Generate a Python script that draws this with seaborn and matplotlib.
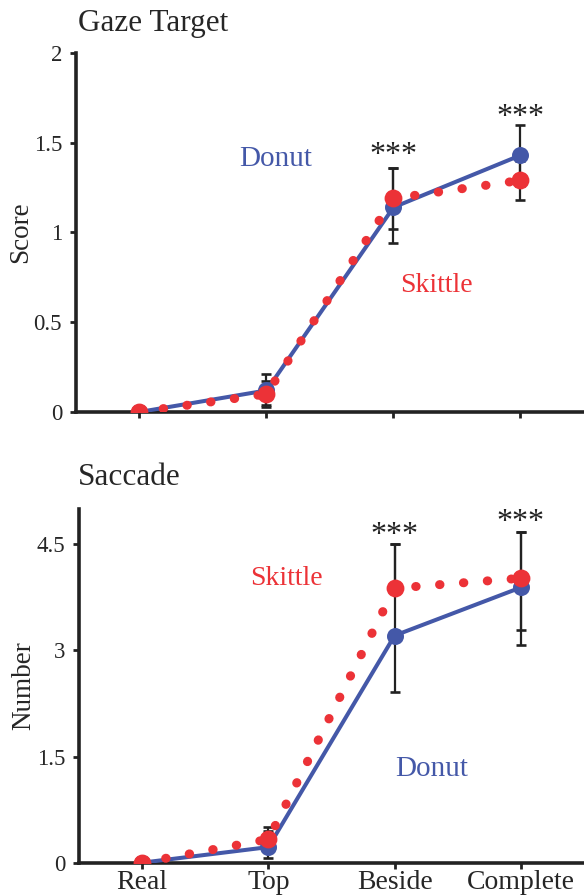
import numpy as np
import pandas as pd
import matplotlib
matplotlib.use("Agg")
import matplotlib.pyplot as plt
import seaborn as sns

# ---- data ----
categories = ["Real", "Top", "Beside", "Complete"]

gaze_donut = [0.0, 0.12, 1.14, 1.43]
gaze_skittle = [0.0, 0.10, 1.19, 1.29]
gaze_donut_lo = [np.nan, 0.03, 0.94, 1.26]
gaze_donut_hi = [np.nan, 0.21, 1.36, 1.60]
gaze_skittle_lo = [np.nan, 0.04, 1.02, 1.18]
gaze_skittle_hi = [np.nan, 0.17, 1.36, 1.40]

sacc_donut = [0.0, 0.22, 3.21, 3.89]
sacc_skittle = [0.0, 0.33, 3.88, 4.02]
sacc_donut_lo = [np.nan, 0.06, 2.41, 3.29]
sacc_donut_hi = [np.nan, 0.45, 4.50, 4.68]
sacc_skittle_lo = [np.nan, 0.15, 3.94, 3.07]
sacc_skittle_hi = [np.nan, 0.50, 4.50, 4.68]

gaze_yticks = [0, 0.5, 1, 1.5, 2]
gaze_yticklabels = ["0", "0.5", "1", "1.5", "2"]
sacc_yticks = [0, 1.5, 3, 4.5]
sacc_yticklabels = ["0", "1.5", "3", "4.5"]

BLUE = "#4458A8"
RED = "#EC3237"
SERIF = "Liberation Serif"

sns.set_theme(style="white")
plt.rcParams["font.family"] = [SERIF, "DejaVu Serif"]

fig = plt.figure(figsize=(5.84, 8.96), dpi=100)
ax1 = fig.add_axes([0.1301, 0.5402, 0.8699, 0.4007])
ax2 = fig.add_axes([0.1353, 0.0372, 0.8647, 0.3948])


def panel(ax, donut, skittle, dlo, dhi, slo, shi, ylim, yticks, yticklabels,
          ylabel, star_y, show_xlabels):
    df = pd.DataFrame({"cat": categories, "donut": donut, "skittle": skittle,
                       "dlo": dlo, "dhi": dhi, "slo": slo, "shi": shi})
    x = np.arange(len(categories))
    # error bars
    for lo, hi in (("dlo", "dhi"), ("slo", "shi")):
        mid = (df[lo] + df[hi]) / 2
        ax.errorbar(x, mid, yerr=(df[hi] - df[lo]) / 2, fmt="none",
                    ecolor="#222222", elinewidth=1.6, capsize=3.6,
                    capthick=1.9, zorder=2)
    # donut line
    sns.lineplot(x=x, y=df["donut"], ax=ax, color=BLUE, linewidth=2.9,
                 zorder=3)
    # skittle dotted line
    n_before = len(ax.lines)
    sns.lineplot(x=x, y=df["skittle"], ax=ax, color=RED, linewidth=6.5,
                 zorder=4)
    for ln in ax.lines[n_before:]:
        ln.set_linestyle((0, (0.05, 2.6)))
        ln.set_dash_capstyle("round")
        ln.set_solid_capstyle("round")
    sns.scatterplot(x=x, y=df["donut"], ax=ax, color=BLUE, s=150,
                    linewidth=0, zorder=5)
    sns.scatterplot(x=x, y=df["skittle"], ax=ax, color=RED, s=165,
                    linewidth=0, zorder=6)

    ax.set_xlim(-0.5, 3.5)
    ax.set_ylim(*ylim)
    ax.set_xticks(x)
    if show_xlabels:
        ax.set_xticklabels(categories, fontsize=20, family=SERIF)
    else:
        ax.set_xticklabels([])
    ax.set_yticks(yticks)
    ax.set_yticklabels(yticklabels, fontsize=16.5, family=SERIF)
    ax.set_ylabel(ylabel, fontsize=19.5, family=SERIF)
    ax.yaxis.set_label_coords(-0.085, 0.5)
    ax.set_xlabel("")
    for s in ("top", "right"):
        ax.spines[s].set_visible(False)
    for s in ("left", "bottom"):
        ax.spines[s].set_color("#222222")
        ax.spines[s].set_linewidth(2.6)
    ax.tick_params(axis="both", direction="out", length=4, width=2,
                   color="#222222", pad=2, bottom=True, left=True)
    ax.tick_params(axis="y", pad=6)
    ax.tick_params(axis="x", pad=1)
    for xi, yi in zip(x[2:], star_y):
        ax.text(xi, yi, "***", ha="center", va="center", fontsize=23,
                color="#222222", family=SERIF)
    ax.set_facecolor("white")


panel(ax1, gaze_donut, gaze_skittle, gaze_donut_lo, gaze_donut_hi,
      gaze_skittle_lo, gaze_skittle_hi, (0, 2), gaze_yticks, gaze_yticklabels,
      "Score", [1.43, 1.64], False)
ax1.text(1.07, 1.41, "Donut", color=BLUE, fontsize=21, ha="center",
         va="center", family=SERIF)
ax1.text(2.34, 0.705, "Skittle", color=RED, fontsize=20, ha="center",
         va="center", family=SERIF)

panel(ax2, sacc_donut, sacc_skittle, sacc_donut_lo, sacc_donut_hi,
      sacc_skittle_lo, sacc_skittle_hi, (0, 5), sacc_yticks, sacc_yticklabels,
      "Number", [4.62, 4.81], True)
ax2.text(1.14, 4.01, "Skittle", color=RED, fontsize=20, ha="center",
         va="center", family=SERIF)
ax2.text(2.29, 1.33, "Donut", color=BLUE, fontsize=21, ha="center",
         va="center", family=SERIF)

fig.text(0.1336, 0.974, "Gaze Target", fontsize=22.5, ha="left", va="center",
         family=SERIF)
fig.text(0.1336, 0.4676, "Saccade", fontsize=22.5, ha="left", va="center",
         family=SERIF)

fig.savefig("out.png", dpi=100, facecolor="white")
